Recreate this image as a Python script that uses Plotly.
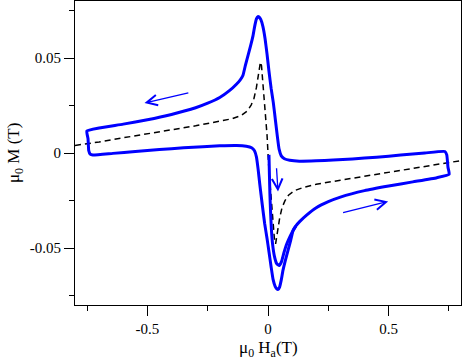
import plotly.graph_objects as go

# main hysteresis loop (mu0*Ha in T, mu0*M in T), traced clockwise from the top-right corner
loop_h = [0.733, 0.65, 0.55, 0.45, 0.35, 0.27, 0.2, 0.13, 0.09, 0.068, 0.055, 0.046, 0.039,
          0.031, 0.022, 0.013, 0.004, -0.004, -0.012, -0.021, -0.03, -0.037, -0.042, -0.048,
          -0.055, -0.062, -0.072, -0.083, -0.094, -0.104, -0.115, -0.131, -0.16, -0.2, -0.25,
          -0.3, -0.4, -0.5, -0.6, -0.7, -0.751, -0.746, -0.743, -0.737, -0.726,
          -0.643, -0.55, -0.45, -0.35, -0.27, -0.2, -0.13, -0.09, -0.068, -0.056, -0.048,
          -0.041, -0.034, -0.024, -0.014, -0.004, 0.004, 0.013, 0.021, 0.03, 0.037, 0.042,
          0.048, 0.055, 0.062, 0.072, 0.083, 0.094, 0.104, 0.115, 0.132, 0.16, 0.2, 0.25,
          0.3, 0.4, 0.5, 0.6, 0.7, 0.751, 0.746, 0.741, 0.733]
loop_m = [0.0008, 0.0, -0.0011, -0.0022, -0.0031, -0.0037, -0.0041, -0.0043, -0.0038, -0.003,
          -0.0015, 0.002, 0.0085, 0.017, 0.0265, 0.034, 0.043, 0.052, 0.06, 0.0665, 0.0703,
          0.0716, 0.0718, 0.0706, 0.0668, 0.0618, 0.0565, 0.0513, 0.046, 0.0408, 0.0385,
          0.0362, 0.0328, 0.0292, 0.0262, 0.0238, 0.0203, 0.0175, 0.0152, 0.0132, 0.0116,
          0.0075, 0.0012, -0.0006, -0.0011,
          -0.0002, 0.0008, 0.0018, 0.0027, 0.0033, 0.0038, 0.004, 0.0036, 0.0028, 0.0012,
          -0.002, -0.0085, -0.0165, -0.027, -0.037, -0.045, -0.052, -0.06, -0.0665, -0.0703,
          -0.0716, -0.0718, -0.0706, -0.0668, -0.0618, -0.0565, -0.0513, -0.046, -0.0408,
          -0.0385, -0.036, -0.0327, -0.0288, -0.0256, -0.0232, -0.0198, -0.0174, -0.0152,
          -0.013, -0.0112, -0.0075, -0.001, 0.0008]

# virgin branch from the origin down into the loop
virgin_h = [0.004, 0.006, 0.008, 0.011, 0.014, 0.019, 0.026, 0.036, 0.047, 0.056, 0.066,
            0.078, 0.092, 0.104, 0.115]
virgin_m = [-0.001, -0.012, -0.022, -0.032, -0.040, -0.048, -0.054, -0.0582, -0.0592,
            -0.0572, -0.0525, -0.0478, -0.0438, -0.0408, -0.0385]

# dashed reversible curve
dash_h = [-0.8, -0.7, -0.6, -0.5, -0.4, -0.3, -0.2, -0.15, -0.11, -0.085, -0.07, -0.058,
          -0.048, -0.04, -0.035, -0.0315, -0.027, -0.021, -0.014, -0.004, 0.0,
          0.004, 0.014, 0.021, 0.027, 0.0315, 0.035, 0.04, 0.048, 0.058, 0.07, 0.085, 0.11,
          0.15, 0.2, 0.3, 0.4, 0.5, 0.6, 0.7, 0.8]
dash_m = [0.004, 0.0058, 0.008, 0.0103, 0.0122, 0.0143, 0.0165, 0.018, 0.0198, 0.0222,
          0.0252, 0.0288, 0.0345, 0.040, 0.045, 0.0478, 0.046, 0.037, 0.025, 0.0094, 0.0,
          -0.0094, -0.025, -0.037, -0.046, -0.0478, -0.045, -0.040, -0.0345, -0.0288,
          -0.0252, -0.0222, -0.0198, -0.018, -0.0165, -0.0143, -0.0122, -0.0103, -0.008,
          -0.0058, -0.004]

x_ticks = [-0.5, 0, 0.5]
x_labels = ["-0.5", "0", "0.5"]
y_ticks = [-0.05, 0, 0.05]
y_labels = ["-0.05", "0", "0.05"]

# direction arrows: (head_h, head_m, tail_h, tail_m)
arrows = [(-0.512, 0.0263, -0.324, 0.0318),
          (0.498, -0.0255, 0.305, -0.0316),
          (0.0415, -0.0203, 0.035, -0.0072)]

BLUE = "#0000ff"
FONT = "'Liberation Serif', 'Times New Roman', Times, serif"

fig = go.Figure()
fig.add_trace(go.Scatter(x=dash_h, y=dash_m, mode="lines",
                         line=dict(color="black", width=1.5, dash="6px,4px")))
fig.add_trace(go.Scatter(x=loop_h, y=loop_m, mode="lines",
                         line=dict(color=BLUE, width=3, shape="spline", smoothing=0.4)))
fig.add_trace(go.Scatter(x=virgin_h, y=virgin_m, mode="lines",
                         line=dict(color=BLUE, width=3, shape="spline", smoothing=0.4)))

for hx, hy, tx, ty in arrows:
    fig.add_annotation(x=hx, y=hy, ax=tx, ay=ty, xref="x", yref="y", axref="x", ayref="y",
                       text="", showarrow=True, arrowhead=5, arrowsize=1.6,
                       arrowwidth=1.3, arrowcolor=BLUE, standoff=0, startstandoff=0)

fig.add_annotation(x=0.5, y=0, xref="paper", yref="paper", xanchor="center", yanchor="top",
                   yshift=-31, showarrow=False, text="μ<sub>0</sub> H<sub>a</sub>(T)",
                   font=dict(family=FONT, size=17, color="black"))
fig.add_annotation(x=0, y=0.5, xref="paper", yref="paper", xanchor="center", yanchor="middle",
                   xshift=-60, showarrow=False, textangle=-90, text="μ<sub>0</sub> M (T)",
                   font=dict(family=FONT, size=17, color="black"))

axis_common = dict(showgrid=False, zeroline=False, showline=True, linecolor="black",
                   linewidth=1.2, mirror=True, ticks="outside", ticklen=10, tickwidth=1,
                   tickcolor="black", automargin=False,
                   tickfont=dict(family=FONT, size=15, color="black"))

fig.update_xaxes(range=[-0.8, 0.8], tickmode="array", tickvals=x_ticks, ticktext=x_labels,
                 minor=dict(ticks="outside", ticklen=5, dtick=0.25, tick0=0, tickcolor="black"),
                 **axis_common)
fig.update_yaxes(range=[-0.08, 0.08], tickmode="array", tickvals=y_ticks, ticktext=y_labels,
                 minor=dict(ticks="outside", ticklen=5, dtick=0.025, tick0=0, tickcolor="black"),
                 **axis_common)

fig.update_layout(width=463, height=360, showlegend=False,
                  margin=dict(l=75, r=2, t=1, b=55, autoexpand=False),
                  plot_bgcolor="white", paper_bgcolor="white",
                  font=dict(family=FONT, color="black"))

# the page body has a default 8px margin; drop it so the figure fills the window
fig.write_html("out.html", config={"displayModeBar": False},
               post_script="document.body.style.margin='0';")
